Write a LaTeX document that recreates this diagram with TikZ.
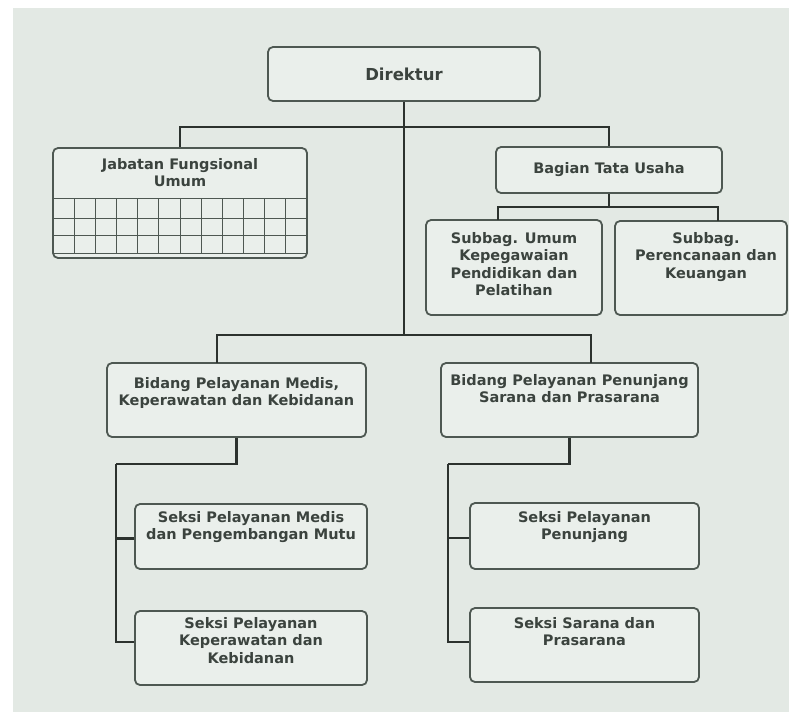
\documentclass[tikz,border=0pt]{standalone}
\usepackage{fontspec}
\setmainfont{DejaVu Sans}
\usepackage{tikz}
\usetikzlibrary{
  positioning % for placing the texts under the top of their boxes
}
\definecolor{paper}{HTML}{E3E9E4}
\definecolor{boxfill}{HTML}{EAEFEB}
\definecolor{boxline}{HTML}{4E5852}
\definecolor{wire}{HTML}{2C322E}
\definecolor{ink}{HTML}{3B433E}
\tikzset{
  unit/.style={ % style for each box of the chart
    draw=boxline,fill=boxfill, % grey frame on a pale fill
    line width=1.8pt,
    rounded corners=5pt,
    inner sep=0pt, % size comes from minimum width/height only
  },
  lbl/.style={ % style for the text inside a box
    font=\fontsize{14.5}{17.5}\selectfont\bfseries,
    text=ink,
    align=center,
    inner sep=0pt,
    node distance=10pt, % gap between box top and first line
  },
  conn/.style={ % style for the connections
    draw=wire,
    line width=2.2pt,
  },
  cell/.style={ % thin lines of the grid in the first box
    draw=boxline,
    line width=1pt,
  },
}
\begin{document}
\begin{tikzpicture}[x=1pt,y=-1pt]
  \useasboundingbox (0,0) rectangle (789,712);
  \fill[paper] (13,8) rectangle (789,712);

  % junction points of the lines
  \coordinate (upbus) at (404,127);
  \coordinate (midbus) at (404,335);
  \coordinate (btubus) at (609,207);
  \coordinate (sbuin) at (498,220);
  \coordinate (sbpin) at (718,221);
  \coordinate (bpmin) at (217,363);
  \coordinate (bppin) at (591,363);
  \coordinate (lbus) at (116,464);
  \coordinate (rbus) at (448,464);

  \node[unit,minimum width=272pt,minimum height=54pt] (dir) at (404,74)
  {};
  \node[lbl,font=\fontsize{16.5}{19}\selectfont\bfseries] (dir-t) at (dir.center)
  {Direktur};

  \node[unit,minimum width=254pt,minimum height=110pt] (jfu) at (180,203)
  {};
  \node[lbl,below=11pt of jfu.north] (jfu-t)
  {Jabatan Fungsional\\Umum};
  \foreach \y in {198,218,235,253}
    \draw[cell] (53,\y) -- (307,\y);
  \foreach \i in {1,...,11}
    \draw[cell] (53+\i*21.17,198) -- (53+\i*21.17,253);

  \node[unit,minimum width=226pt,minimum height=46pt] (btu) at (609,170)
  {};
  \node[lbl] (btu-t) at (btu.center)
  {Bagian Tata Usaha};

  \node[unit,minimum width=176pt,minimum height=95pt] (sbu) at (514,267.5)
  {};
  \node[lbl,below=13pt of sbu.north] (sbu-t)
  {Subbag. Umum\\Kepegawaian\\Pendidikan dan\\Pelatihan};
  \node[unit,minimum width=172pt,minimum height=94pt] (sbp) at (701,268)
  {};
  \node[lbl,below=12pt of sbp.north,xshift=5pt] (sbp-t)
  {Subbag.\\Perencanaan dan\\Keuangan};

  \node[unit,minimum width=259pt,minimum height=74pt] (bpm) at (236.5,400)
  {};
  \node[lbl,below=15pt of bpm.north] (bpm-t)
  {Bidang Pelayanan Medis,\\Keperawatan dan Kebidanan};
  \node[unit,minimum width=257pt,minimum height=74pt] (bpp) at (569.5,400)
  {};
  \node[lbl,below=12pt of bpp.north] (bpp-t)
  {Bidang Pelayanan Penunjang\\Sarana dan Prasarana};

  \node[unit,minimum width=232pt,minimum height=65pt] (spm) at (251,536.5)
  {};
  \node[lbl,below=8pt of spm.north] (spm-t)
  {Seksi Pelayanan Medis\\dan Pengembangan Mutu};
  \node[unit,minimum width=232pt,minimum height=74pt] (skk) at (251,648)
  {};
  \node[lbl,below=7pt of skk.north] (skk-t)
  {Seksi Pelayanan\\Keperawatan dan\\Kebidanan};

  \node[unit,minimum width=229pt,minimum height=66pt] (spn) at (584.5,536)
  {};
  \node[lbl,below=9pt of spn.north] (spn-t)
  {Seksi Pelayanan\\Penunjang};
  \node[unit,minimum width=229pt,minimum height=74pt] (ssp) at (584.5,645)
  {};
  \node[lbl,below=10pt of ssp.north] (ssp-t)
  {Seksi Sarana dan\\Prasarana};

  \draw[conn] (upbus) -| (jfu);
  \draw[conn] (upbus) -| (btu);

  \draw[conn] (dir) -- (midbus);
  \draw[conn] (midbus) -| (bpmin);
  \draw[conn] (midbus) -| (bppin);

  \draw[conn] (btu) -- (btubus);
  \draw[conn] (btubus) -| (sbuin);
  \draw[conn] (btubus) -| (sbpin);

  \draw[conn] (bpm) |- (lbus);
  \draw[conn] (lbus) |- ([yshift=-2pt]spm.west);
  \draw[conn] (lbus) |- ([yshift=6pt]skk.west);

  \draw[conn] (bpp) |- (rbus);
  \draw[conn] (rbus) |- ([yshift=-2pt]spn.west);
  \draw[conn] (rbus) |- ([yshift=3pt]ssp.west);
\end{tikzpicture}
\end{document}
